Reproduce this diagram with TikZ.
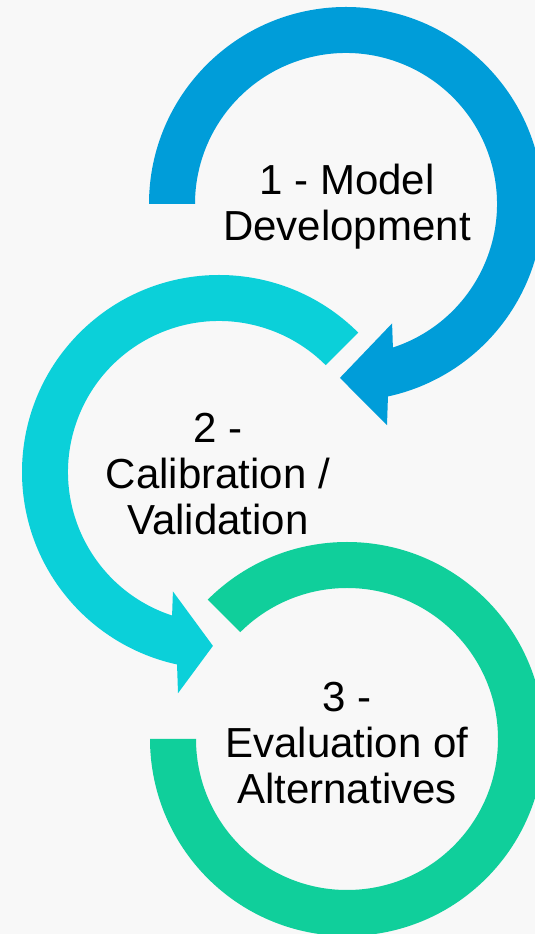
\documentclass[tikz,border=0pt]{standalone}
\usepackage{fontspec}
\setmainfont{Liberation Sans}
\definecolor{arcblue}{HTML}{009DD9}
\definecolor{arccyan}{HTML}{0BD0D9}
\definecolor{arcgreen}{HTML}{10CF9B}
\definecolor{paper}{HTML}{F8F8F8}

\begin{document}
\begin{tikzpicture}[x=1pt,y=1pt,
  phase/.style={align=center, font=\fontsize{42}{46}\selectfont, inner sep=0pt}]
\clip (0,0) rectangle (535,934);
\fill[paper] (0,0) rectangle (535,934);

\fill[arcblue, shift={(346,730)}] (180:197) arc[start angle=180, end angle=-77.7, radius=197] -- (-79.5:225) -- (-92:174) -- (-68.9:128) -- (-71.9:151) arc[start angle=-71.9, end angle=180, radius=151] -- cycle;
\fill[arccyan, shift={(219,462)}] (45:197) arc[start angle=45, end angle=257.7, radius=197] -- (259.5:225) -- (268:174) -- (248.9:128) -- (251.9:151) arc[start angle=251.9, end angle=45, radius=151] -- cycle;
\fill[arcgreen, shift={(347,195)}] (135:197) arc[start angle=135, end angle=-180, radius=197] -- (180:151) arc[start angle=-180, end angle=135, radius=151] -- cycle;

\node[phase] (model) at (347,727) {1 - Model\\Development};
\node[phase] (calib) at (218,460) {2 -\\Calibration /\\Validation};
\node[phase] (alter) at (347,191) {3 -\\Evaluation of\\Alternatives};
\end{tikzpicture}
\end{document}
